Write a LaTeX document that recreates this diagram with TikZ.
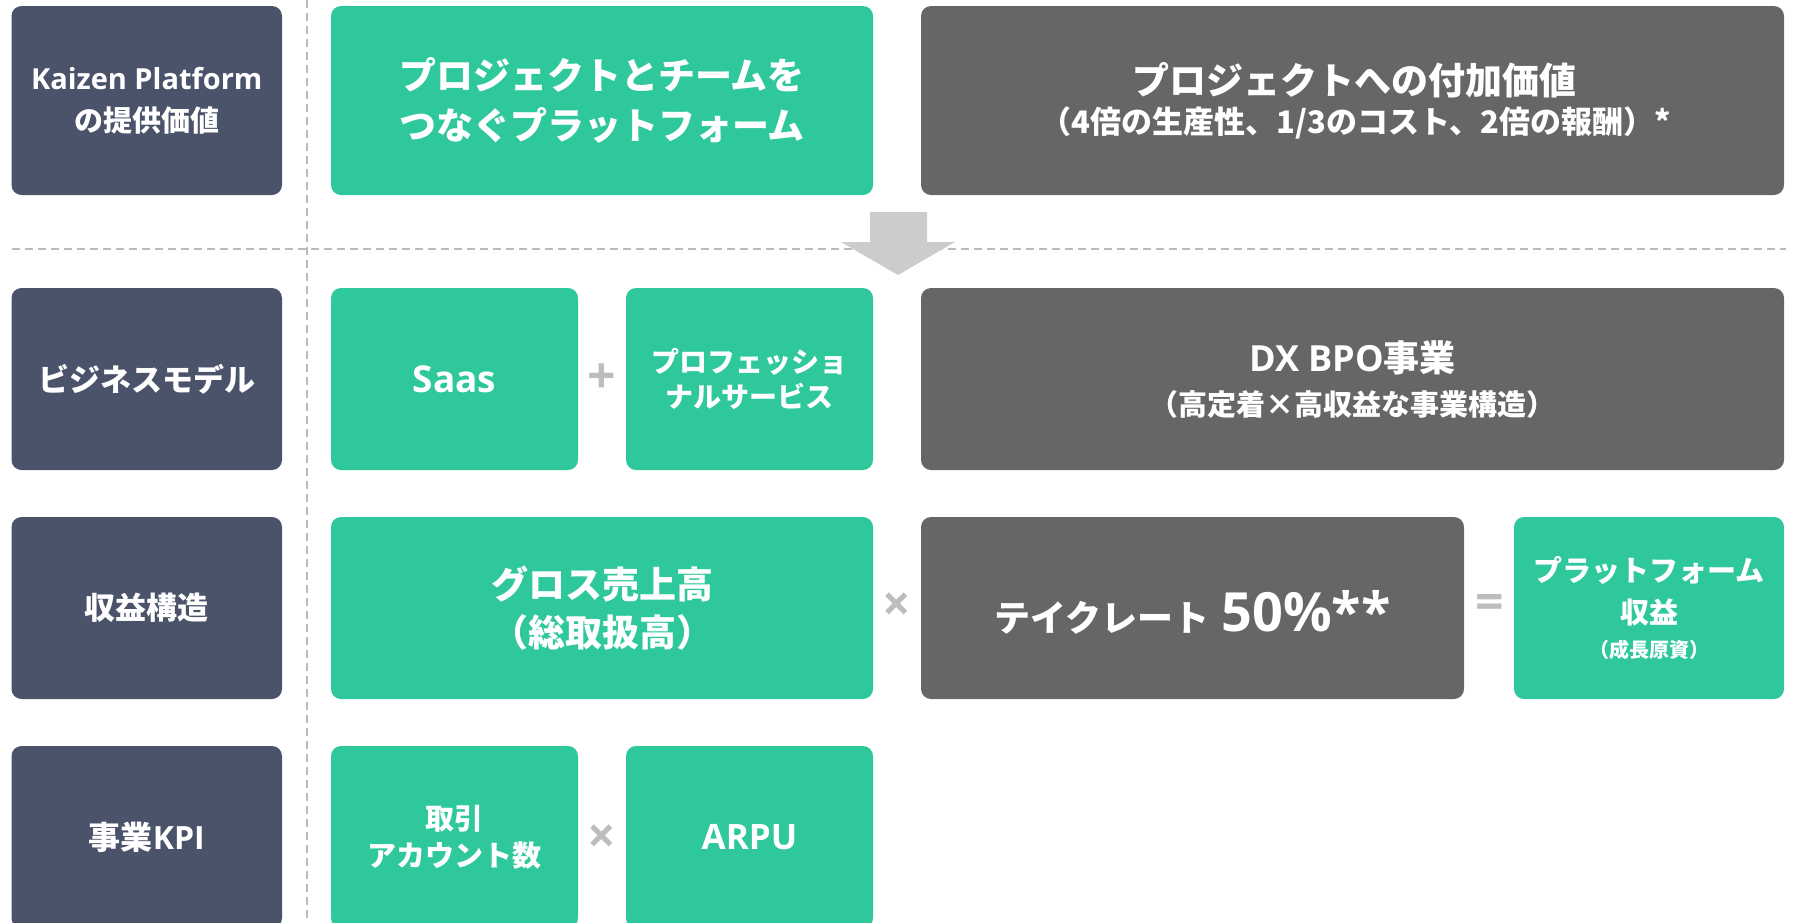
\documentclass[tikz,border=0pt]{standalone}
\usepackage{fontspec}
\setmainfont{Noto Sans CJK JP}
\newfontfamily\lat{Open Sans}
\definecolor{cNavy}{HTML}{4B536B}
\definecolor{cGreen}{HTML}{2EC89C}
\definecolor{cGray}{HTML}{666666}
\definecolor{cArrow}{HTML}{CCCCCC}
\definecolor{cOp}{HTML}{BDBDBD}
\definecolor{cLine}{HTML}{BBBBBB}
\newcommand\setfs[2]{\fontsize{#1}{#2}\selectfont\bfseries}
\begin{document}
\begin{tikzpicture}[x=1pt,y=-1pt,
  box/.style={rounded corners=10pt, inner sep=0pt, text=white, align=center},
  navybox/.style={box, fill=cNavy},
  greenbox/.style={box, fill=cGreen},
  graybox/.style={box, fill=cGray},
  txt/.style={inner sep=0pt, text=white, align=center},
  opsign/.style={text=cOp, inner sep=0pt, font=\lat\setfs{50}{50}},
  guide/.style={draw=cLine, line width=1.5pt, dash pattern=on 8pt off 5pt}]
\useasboundingbox (0,0) rectangle (1793,922);
\clip (0,0) rectangle (1793,922);
% guide lines
\coordinate (vt) at (307,0);
\coordinate (vb) at (307,922);
\coordinate (hl) at (12,249);
\coordinate (hr) at (1786,249);
\draw[guide] (vt) -- (vb);
\draw[guide] (hl) -- (hr);
% row 1
\node[navybox, minimum width=270.5pt, minimum height=189pt, font=\setfs{29}{42}] (h1) at (146.75,100.5) {{\lat Kaizen Platform}\\の提供価値};
\node[greenbox, minimum width=542pt, minimum height=189pt, font=\setfs{37}{50}] (g1) at (602,100.5) {プロジェクトとチームを\\つなぐプラットフォーム};
\node[graybox, minimum width=863pt, minimum height=189pt] (d1) at (1352.5,100.5) {};
\node[txt, font=\setfs{37}{44}] (d1a) at (1354,80) {プロジェクトへの付加価値};
\node[txt, font=\setfs{31}{36}] (d1b) at (1356,123) {（4倍の生産性、1/3のコスト、2倍の報酬）*};
% arrow
\fill[cArrow] (870,212) -- (927,212) -- (927,242) -- (955,242) -- (898,275) -- (841,242) -- (870,242) -- cycle;
% row 2
\node[navybox, minimum width=270.5pt, minimum height=182pt, font=\setfs{31}{40}] (h2) at (146.75,379) {ビジネスモデル};
\node[greenbox, minimum width=247pt, minimum height=182pt, font=\lat\setfs{37}{44}] (s2) at (454.5,379) {Saas};
\node[opsign] (plus) at (601.6,379) {+};
\node[greenbox, minimum width=247pt, minimum height=182pt, font=\setfs{28}{35}] (p2) at (749.5,379) {プロフェッショ\\ナルサービス};
\node[graybox, minimum width=863pt, minimum height=182pt] (d2) at (1352.5,379) {};
\node[txt, font=\setfs{36}{44}] (d2a) at (1352.5,358) {{\lat DX BPO}事業};
\node[txt, font=\setfs{29}{36}] (d2b) at (1352.5,404) {（高定着×高収益な事業構造）};
% row 3
\node[navybox, minimum width=270.5pt, minimum height=182pt, font=\setfs{31}{40}] (h3) at (146.75,608) {収益構造};
\node[greenbox, minimum width=542pt, minimum height=182pt, font=\setfs{37}{48}] (g3) at (602,608) {グロス売上高\\（総取扱高）};
\node[opsign] (times1) at (897,607) {×};
\node[graybox, minimum width=543pt, minimum height=182pt] (t3) at (1192.5,608) {};
\node[txt] (t3a) at (1192.5,612) {{\setfs{36}{44}テイクレート}\hspace{12pt}{\lat\setfs{54}{60}50\%**}};
\node[opsign] (eq) at (1490,607) {=};
\node[greenbox, minimum width=270pt, minimum height=182pt] (pl3) at (1649,608) {};
\node[txt, font=\setfs{29}{36}] (pl3a) at (1649,570) {プラットフォーム};
\node[txt, font=\setfs{29}{36}] (pl3b) at (1649,612) {収益};
\node[txt, font=\setfs{20}{26}] (pl3c) at (1649,650) {（成長原資）};
% row 4
\node[navybox, minimum width=270.5pt, minimum height=182pt, font=\setfs{32}{40}] (h4) at (146.75,837) {事業{\lat KPI}};
\node[greenbox, minimum width=247pt, minimum height=182pt, font=\setfs{29}{37}] (k4) at (454.5,837) {取引\\アカウント数};
\node[opsign] (times2) at (601.6,839) {×};
\node[greenbox, minimum width=247pt, minimum height=182pt, font=\lat\setfs{35}{44}] (a4) at (749.5,837) {ARPU};
\end{tikzpicture}
\end{document}
